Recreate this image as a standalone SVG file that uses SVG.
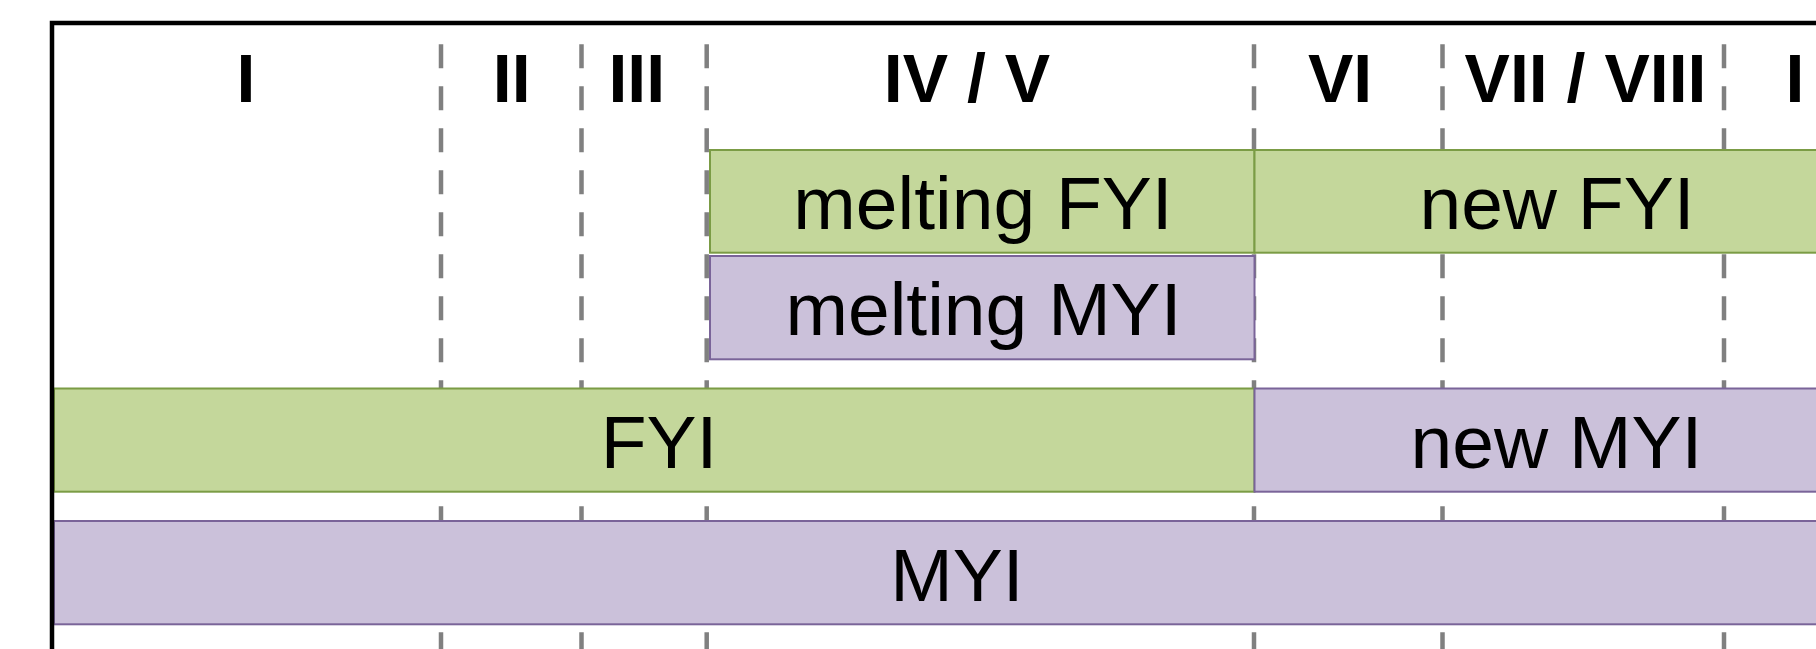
<svg xmlns="http://www.w3.org/2000/svg" width="1816" height="649" viewBox="0 0 1816 649">
  <style>
    .hdr { font-family: "Liberation Sans", Arial, sans-serif; font-weight: bold; font-size: 68px; fill: #000; text-anchor: middle; }
    .lbl { font-family: "Liberation Sans", Arial, sans-serif; font-size: 75px; fill: #000; text-anchor: middle; }
    .green { fill: #C4D79B; stroke: #7B9C45; stroke-width: 2; }
    .purple { fill: #CBC1DA; stroke: #7A6499; stroke-width: 2; }
    .dash { stroke: #808080; stroke-width: 4.5; stroke-dasharray: 24 18; fill: none; }
  </style>
  <rect width="1816" height="649" fill="#ffffff"/>

  <g id="connectors">
    <line class="dash" x1="441" y1="44.3" x2="441" y2="700"/>
    <line class="dash" x1="581.5" y1="44.3" x2="581.5" y2="700"/>
    <line class="dash" x1="706.7" y1="44.3" x2="706.7" y2="700"/>
    <line class="dash" x1="1254" y1="44.3" x2="1254" y2="700"/>
    <line class="dash" x1="1442.5" y1="44.3" x2="1442.5" y2="700"/>
    <line class="dash" x1="1724" y1="44.3" x2="1724" y2="700"/>
  </g>

  <g id="headers">
    <text class="hdr" x="246" y="102">I</text>
    <text class="hdr" x="511.7" y="102">II</text>
    <text class="hdr" x="636.8" y="102">III</text>
    <text class="hdr" x="967" y="102">IV / V</text>
    <text class="hdr" x="1340" y="102">VI</text>
    <text class="hdr" x="1585.5" y="102">VII / VIII</text>
    <text class="hdr" x="1795" y="102">I</text>
  </g>

  <g id="melting-fyi">
    <rect class="green" x="710" y="150" width="544.5" height="102.7"/>
    <text class="lbl" x="983" y="229.3">melting FYI</text>
  </g>
  <g id="new-fyi">
    <rect class="green" x="1254.5" y="150" width="620" height="102.7"/>
    <text class="lbl" x="1557" y="229.3">new FYI</text>
  </g>
  <g id="melting-myi">
    <rect class="purple" x="710" y="256" width="544.5" height="103.3"/>
    <text class="lbl" x="983.5" y="335">melting MYI</text>
  </g>
  <g id="fyi">
    <rect class="green" x="54" y="388.5" width="1200.5" height="103.2"/>
    <text class="lbl" x="659" y="468.3">FYI</text>
  </g>
  <g id="new-myi">
    <rect class="purple" x="1254.5" y="388.5" width="620" height="103.2"/>
    <text class="lbl" x="1556.5" y="468.3">new MYI</text>
  </g>
  <g id="myi">
    <rect class="purple" x="54" y="521" width="1820" height="103.3"/>
    <text class="lbl" x="957" y="600.7">MYI</text>
  </g>

  <g id="frame">
    <rect x="52" y="23" width="1900" height="700" fill="none" stroke="#000" stroke-width="4.5"/>
  </g>
</svg>
